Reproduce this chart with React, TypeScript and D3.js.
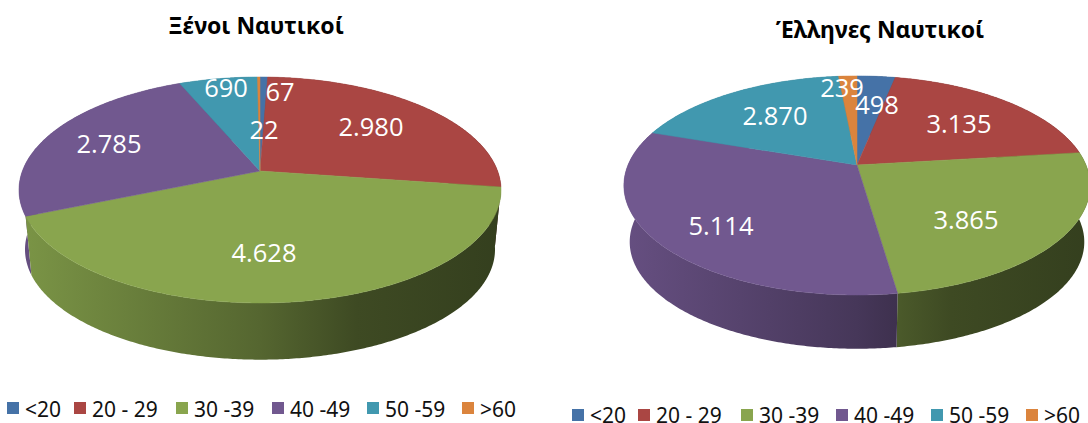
import React from 'react';
import * as d3 from 'd3';

// age groups, same order in both pies
const ageGroups = ['<20', '20 - 29', '30 -39', '40 -49', '50 -59', '>60'];
const foreignValues = [67, 2980, 4628, 2785, 690, 22];
const greekValues = [498, 3135, 3865, 5114, 2870, 239];
const foreignLabels = ['67', '2.980', '4.628', '2.785', '690', '22'];
const greekLabels = ['498', '3.135', '3.865', '5.114', '2.870', '239'];
const sliceColors = ['#4572a7', '#aa4643', '#89a54e', '#71588f', '#4198af', '#db843d'];

const foreignPie = {
  id: 'foreign',
  title: 'Ξένοι Ναυτικοί',
  titleX: 256,
  titleY: 34,
  values: foreignValues,
  labels: foreignLabels,
  cx: 260,
  cy: 171,
  R: 237.6, // horizontal radius
  S: 109.8, // vertical radius
  k: 0.168, // perspective strength
  dy: 60,
  labelOffsets: [[20, -79], [111, -44], [4, 82], [-151, -27], [-34, -83], [4, -41]],
  legendY: 402,
  legendTextY: 417,
  legendX: [7, 74, 176, 272, 367, 462],
};

const greekPie = {
  id: 'greek',
  title: 'Έλληνες Ναυτικοί',
  titleX: 880,
  titleY: 38,
  values: greekValues,
  labels: greekLabels,
  cx: 857,
  cy: 165,
  R: 229,
  S: 105.7,
  k: 0.187,
  dy: 57,
  labelOffsets: [[20, -60], [102, -41], [109, 55], [-136, 61], [-82, -49], [-15, -77]],
  legendY: 409,
  legendTextY: 423,
  legendX: [572, 638, 741, 836, 931, 1026],
};

const LOWER_SCALE = 0.975;
const labelFont = '"Open Sans", sans-serif';
const textFont = '"Noto Sans", sans-serif';

const shade = (color: string, f: number) => {
  const c = d3.rgb(color);
  return d3.rgb(c.r * f, c.g * f, c.b * f).formatHex();
};

const Pie3D = ({ pie }: { pie: typeof foreignPie }) => {
  const { cx, cy, R, S, k, dy } = pie;
  const slices = d3.pie<number>().sort(null)(pie.values);
  const rx = R / Math.sqrt(1 - k * k);

  // circle angle -> point on the tilted top (or lower) face
  const project = (a: number, lower = false): [number, number] => {
    const u = Math.sin(a);
    const v = -Math.cos(a);
    const w = 1 - k * v;
    const X = (R * u) / w;
    const Y = (S * v) / w;
    return lower ? [cx + X * LOWER_SCALE, cy + Y * LOWER_SCALE + dy] : [cx + X, cy + Y];
  };

  const sample = (a0: number, a1: number) => {
    const n = Math.max(2, Math.ceil((a1 - a0) / 0.01));
    return d3.range(n + 1).map((i) => a0 + ((a1 - a0) * i) / n);
  };

  const line = d3.line();
  const topPath = (s: d3.PieArcDatum<number>) =>
    line([[cx, cy], ...sample(s.startAngle, s.endAngle).map((a) => project(a))]) + 'Z';
  const wallPath = (s: d3.PieArcDatum<number>) => {
    const angles = sample(s.startAngle, s.endAngle);
    return (
      line([
        ...angles.map((a) => project(a)),
        ...angles.slice().reverse().map((a) => project(a, true)),
      ]) + 'Z'
    );
  };

  // back slices first so the front walls cover them
  const wallOrder = slices
    .slice()
    .sort(
      (a, b) =>
        -Math.cos((a.startAngle + a.endAngle) / 2) + Math.cos((b.startAngle + b.endAngle) / 2)
    );

  return (
    <g>
      <defs>
        {slices.map((s) => (
          <linearGradient
            key={s.index}
            id={`${pie.id}-wall-${s.index}`}
            gradientUnits="userSpaceOnUse"
            x1={cx - rx}
            x2={cx + rx}
            y1={0}
            y2={0}
          >
            <stop offset="0" stopColor={shade(sliceColors[s.index], 0.9)} />
            <stop offset="0.5" stopColor={shade(sliceColors[s.index], 0.62)} />
            <stop offset="0.7" stopColor={shade(sliceColors[s.index], 0.45)} />
            <stop offset="1" stopColor={shade(sliceColors[s.index], 0.38)} />
          </linearGradient>
        ))}
      </defs>

      {wallOrder.map((s) => (
        <path key={s.index} d={wallPath(s)} fill={`url(#${pie.id}-wall-${s.index})`} />
      ))}
      {slices.map((s) => (
        <path
          key={s.index}
          d={topPath(s)}
          fill={sliceColors[s.index]}
          stroke={sliceColors[s.index]}
          strokeWidth={0.5}
        />
      ))}

      {pie.labels.map((label, i) => (
        <text
          key={i}
          x={cx + pie.labelOffsets[i][0]}
          y={cy + pie.labelOffsets[i][1]}
          dy="0.36em"
          textAnchor="middle"
          fill="#fff"
          fontFamily={labelFont}
          fontSize={25.5}
        >
          {label}
        </text>
      ))}

      <text
        x={pie.titleX}
        y={pie.titleY}
        textAnchor="middle"
        fontFamily={textFont}
        fontWeight="bold"
        fontSize={23}
        fill="#000"
      >
        {pie.title}
      </text>

      {ageGroups.map((name, i) => (
        <g key={name}>
          <rect x={pie.legendX[i]} y={pie.legendY} width={12} height={12} fill={sliceColors[i]} />
          <text
            x={pie.legendX[i] + 18}
            y={pie.legendTextY}
            fontFamily={textFont}
            fontSize={21}
            fill="#111"
          >
            {name}
          </text>
        </g>
      ))}
    </g>
  );
};

export default function App() {
  return (
    <svg
      width={1088}
      height={423}
      style={{ position: 'absolute', left: 0, top: 0, background: '#fff' }}
    >
      <Pie3D pie={foreignPie} />
      <Pie3D pie={greekPie} />
    </svg>
  );
}
